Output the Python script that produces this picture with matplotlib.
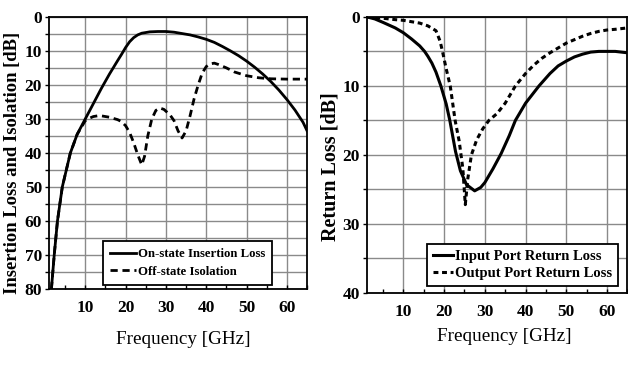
import matplotlib
matplotlib.use("Agg")
import matplotlib.pyplot as plt
from matplotlib.ticker import MultipleLocator

plt.rcParams['font.family'] = ['Liberation Serif', 'DejaVu Serif']

# left panel: on-state insertion loss
il_f = [1.6, 2.3, 3.1, 4.3, 6.3, 8, 10, 12, 14, 16, 18, 19, 20, 21, 22, 23, 24, 26, 28, 30,
        32, 34, 36, 38, 40, 42, 44, 46, 48, 50, 52, 54, 56, 58, 60, 62, 64, 65]
il_db = [80, 70, 60, 50, 40, 34.5, 30, 25.5, 21, 16.8, 12.9, 11, 9.0, 7.3, 6.1, 5.3, 4.8, 4.4, 4.3, 4.3,
         4.5, 4.9, 5.3, 5.9, 6.6, 7.5, 8.7, 10, 11.4, 13, 14.8, 16.8, 19, 21.5, 24.3, 27.4, 31, 33.5]

# left panel: off-state isolation
iso_f = [1.6, 2.3, 3.1, 4.3, 6.3, 8, 10, 11, 12, 13, 14, 16, 18, 19, 20, 21, 22, 23, 24,
         24.7, 25.5, 26.5, 27.5, 28.5, 29.5, 31, 32, 33, 34, 35, 36, 37, 38, 39, 40, 41, 42,
         43, 45, 47, 50, 53, 56, 60, 65]
iso_db = [80, 70, 60, 50, 40, 34.5, 30.5, 29.8, 29.3, 29.1, 29.1, 29.5, 30.2, 30.8, 32, 34, 37, 40.5, 43.5,
          41, 35, 30, 27.5, 26.8, 27.2, 28.8, 30.5, 33.5, 35.6, 33.5, 29, 24, 20, 16.5, 14.6, 13.8, 13.6,
          14, 15, 16.2, 17.3, 17.9, 18.2, 18.3, 18.3]

# right panel: input port return loss
in_f = [1, 3, 5, 8, 10, 12, 14, 15.2, 16, 17, 18, 19.2, 20.5, 21.4, 22.8, 24, 25.5, 27.5, 29, 30, 32, 34, 36,
        37.5, 40, 43.3, 46, 48, 50, 52, 54, 56, 58, 60, 62, 65]
in_db = [0, 0.3, 0.8, 1.6, 2.3, 3.2, 4.2, 5.0, 5.7, 6.7, 8.0, 10, 12.6, 15, 19.5, 22.3, 24.3, 25.2, 24.7, 24, 22, 19.8, 17.2,
         15, 12.5, 10, 8.2, 7.1, 6.4, 5.8, 5.4, 5.1, 5.0, 5.0, 5.0, 5.2]

# right panel: output port return loss
out_f = [1, 5, 8, 10, 12, 14, 16, 18, 19, 19.6, 20.5, 21.5, 22.7, 23.7, 24.6, 25.2, 25.8, 26.7, 28,
         29.5, 31, 33, 35, 37.5, 40, 42, 44, 46, 48, 50, 52, 54, 56, 58, 60, 62, 65]
out_db = [0, 0.2, 0.4, 0.5, 0.7, 0.9, 1.3, 2.0, 3.5, 5, 7.5, 10, 15, 18, 22, 27.2, 23.5, 20, 17.8,
          16.2, 15, 14, 12.5, 10, 8.2, 7.0, 6.0, 5.2, 4.5, 3.8, 3.3, 2.8, 2.4, 2.1, 1.9, 1.8, 1.6]

fig = plt.figure(figsize=(6.28, 3.67), dpi=100)
ax1 = fig.add_axes([0.078, 0.2125, 0.411, 0.7415])
ax2 = fig.add_axes([0.584, 0.2016, 0.415, 0.7524])

tick_font = dict(family='Liberation Serif', weight='bold', size=12.5)


def style(ax, ymax):
    ax.set_xlim(1, 65)
    ax.set_ylim(ymax, 0)
    ax.set_xticks([10, 20, 30, 40, 50, 60])
    ax.xaxis.set_minor_locator(MultipleLocator(5))
    ax.yaxis.set_major_locator(MultipleLocator(10))
    ax.yaxis.set_minor_locator(MultipleLocator(5))
    ax.grid(True, which='major', axis='x', color='#8a8a8a', lw=1.0)
    ax.grid(True, which='both', axis='y', color='#8a8a8a', lw=1.0)
    ax.set_axisbelow(True)
    for s in ax.spines.values():
        s.set_linewidth(1.3)
    ax.tick_params(which='both', length=3, width=1, pad=2)
    ax.tick_params(axis='x', which='both', direction='in')
    ax.tick_params(axis='x', which='major', pad=8)
    for lab in ax.get_xticklabels() + ax.get_yticklabels():
        lab.set_fontproperties(tick_font)


ax1.plot(il_f, il_db, color='black', lw=2.0, label='On-state Insertion Loss')
ax1.plot(iso_f, iso_db, color='black', lw=2.0, ls=(0, (2.6, 1.7)), label='Off-state Isolation')
style(ax1, 80)
ax1.set_xlabel('Frequency [GHz]', fontsize=13.8)
ax1.xaxis.set_label_coords(0.519, -0.154)
ax1.set_ylabel('Insertion Loss and Isolation [dB]', fontsize=13.4, fontweight='bold')
ax1.yaxis.set_label_coords(-0.108, 0.465)
leg1 = ax1.legend(loc='lower left', bbox_to_anchor=(0.21, 0.015), borderaxespad=0,
                  prop=dict(family='Liberation Serif', weight='bold', size=9.2),
                  fancybox=False, framealpha=1, edgecolor='black', borderpad=0.55,
                  handlelength=2.0, handletextpad=0.15, labelspacing=0.45)
leg1.get_frame().set_linewidth(1.3)

ax2.plot(in_f, in_db, color='black', lw=2.2, label='Input Port Return Loss')
ax2.plot(out_f, out_db, color='black', lw=2.2, ls=(0, (1.6, 1.2)), label='Output Port Return Loss')
style(ax2, 40)
ax2.set_xlabel('Frequency [GHz]', fontsize=13.8)
ax2.xaxis.set_label_coords(0.529, -0.127)
ax2.set_ylabel('Return Loss [dB]', fontsize=14.5, fontweight='bold')
ax2.yaxis.set_label_coords(-0.1, 0.458)
leg2 = ax2.legend(loc='lower left', bbox_to_anchor=(0.23, 0.025), borderaxespad=0,
                  prop=dict(family='Liberation Serif', weight='bold', size=10.5),
                  fancybox=False, framealpha=1, edgecolor='black', borderpad=0.4,
                  handlelength=1.4, handletextpad=0.15, labelspacing=0.3)
leg2.get_frame().set_linewidth(1.3)

fig.savefig('out.png', dpi=100)
